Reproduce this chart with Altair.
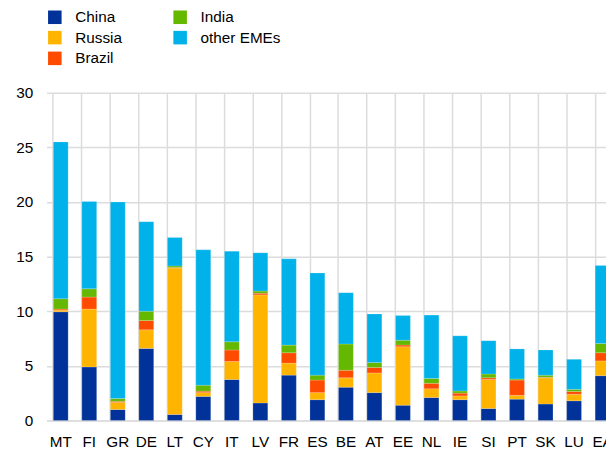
import altair as alt
import pandas as pd

categories = ["MT", "FI", "GR", "DE", "LT", "CY", "IT", "LV", "FR", "ES",
              "BE", "AT", "EE", "NL", "IE", "SI", "PT", "SK", "LU", "EA"]
series = ["China", "Russia", "Brazil", "India", "other EMEs"]
china = [9.95, 4.9, 1.0, 6.6, 0.55, 2.2, 3.75, 1.6, 4.15, 1.9,
         3.05, 2.55, 1.4, 2.1, 1.9, 1.1, 1.95, 1.5, 1.8, 4.1]
russia = [0.15, 5.3, 0.65, 1.7, 13.4, 0.35, 1.65, 9.9, 1.1, 0.65,
          0.85, 1.8, 5.35, 0.8, 0.35, 2.65, 0.35, 2.4, 0.6, 1.35]
brazil = [0.1, 1.1, 0.1, 0.85, 0.05, 0.13, 1.05, 0.15, 0.95, 1.15,
          0.7, 0.5, 0.15, 0.5, 0.25, 0.15, 1.4, 0.05, 0.25, 0.75]
india = [0.95, 0.75, 0.25, 0.85, 0.15, 0.55, 0.75, 0.2, 0.7, 0.45,
         2.4, 0.45, 0.45, 0.45, 0.2, 0.35, 0.1, 0.2, 0.2, 0.85]
other = [14.35, 8.0, 18.0, 8.2, 2.6, 12.4, 8.3, 3.5, 7.9, 9.35,
         4.7, 4.45, 2.25, 5.8, 5.05, 3.05, 2.75, 2.3, 2.75, 7.15]
colors = ["#003299", "#FFB400", "#FF4B00", "#65B800", "#00B1EA"]
y_ticks = [0, 5, 10, 15, 20, 25, 30]

rows = []
for si, (name, vals) in enumerate(zip(series, [china, russia, brazil, india, other])):
    for c, v in zip(categories, vals):
        rows.append({"country": c, "series": name, "value": v, "stack": si})
df = pd.DataFrame(rows)

FONT = "Liberation Sans"
FS = 15.5
GRID = "#dcdcdc"

xscale = alt.Scale(domain=categories, range=[0, 578], paddingInner=0.48, paddingOuter=0.24)

bars = alt.Chart(df).mark_bar(stroke="white", strokeWidth=0.3, strokeOpacity=0.6).encode(
    x=alt.X("country:N", sort=categories, scale=xscale, title=None,
            axis=alt.Axis(labelAngle=0, ticks=False, grid=True, bandPosition=0,
                          gridColor=GRID, gridWidth=1.5,
                          labelPadding=14, labelFontSize=FS, labelFont=FONT,
                          labelColor="#000000", domainColor=GRID, domainWidth=1.5)),
    y=alt.Y("value:Q", stack="zero", title=None,
            scale=alt.Scale(domain=[0, 30], nice=False),
            axis=alt.Axis(values=y_ticks, ticks=False, domain=False, grid=True,
                          gridColor=GRID, gridWidth=1.5, labelPadding=14,
                          labelFontSize=FS, labelFont=FONT, labelColor="#000000")),
    color=alt.Color("series:N", scale=alt.Scale(domain=series, range=colors),
                    legend=alt.Legend(title=None, orient="none", legendX=0.7, legendY=-84.7,
                                      columns=2, symbolType="square", symbolSize=188,
                                      symbolStrokeWidth=0, labelFontSize=FS, labelFont=FONT,
                                      labelColor="#000000", columnPadding=51, rowPadding=4,
                                      labelOffset=13, padding=0)),
    order=alt.Order("stack:Q", sort="ascending"),
)

chart = bars.properties(
    width=567, height=332,
    autosize=alt.AutoSizeParams(type="none"),
    padding={"left": 39, "top": 83, "right": 0, "bottom": 29},
).configure_view(stroke=None)

chart.save("out.html", embed_options={"renderer": "svg", "actions": False})
